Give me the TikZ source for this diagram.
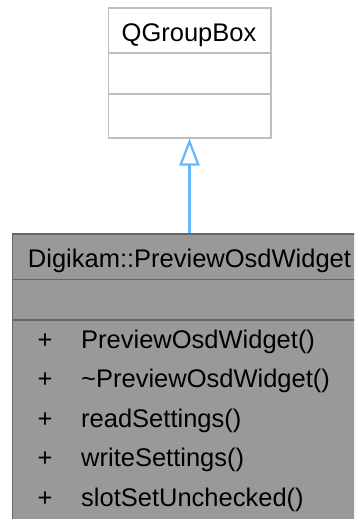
\documentclass[tikz,border=0pt]{standalone}
\usepackage{fontspec}
\setmainfont{Liberation Sans}
\usetikzlibrary{arrows.meta}
\definecolor{arrowblue}{HTML}{63B8FF}
\definecolor{topline}{HTML}{BFBFBF}
\definecolor{botfill}{HTML}{999999}
\definecolor{botline}{HTML}{666666}
\begin{document}
\begin{tikzpicture}[x=1pt,y=-1pt,
  txt/.style={font=\fontsize{25.5}{30}\selectfont, inner sep=0pt, text=black},
  classbox/.style={anchor=north west, inner sep=0pt, line width=1.5pt}]
\useasboundingbox (0,0) rectangle (354,519);
\clip (0,0) rectangle (354,519);
% base class
\node[classbox, draw=topline, fill=white, minimum width=162.5pt, minimum height=129.5pt] (base) at (107.5,7.5) {};
\draw[topline, line width=1.5pt] (107.5,53) -- (270,53);
\draw[topline, line width=1.5pt] (107.5,94) -- (270,94);
\node[txt, anchor=base] (basename) at (189,42) {QGroupBox};
% derived class
\node[classbox, draw=botline, fill=botfill, minimum width=354.5pt, minimum height=295pt] (derived) at (11.5,233) {};
\draw[botline, line width=1.5pt] (11.5,279.5) -- (366,279.5);
\draw[botline, line width=1.5pt] (11.5,320) -- (366,320);
\node[txt, anchor=base] (dername) at (189.5,267) {Digikam::PreviewOsdWidget};
\foreach \t [count=\i from 0] in {PreviewOsdWidget(),\char`~PreviewOsdWidget(),readSettings(),writeSettings(),slotSetUnchecked()} {
  \node[txt, anchor=base] (p\i) at (45,348+39.5*\i) {+};
  \node[txt, anchor=base west] (m\i) at (81,348+39.5*\i) {\t};
}
% inheritance arrow
\draw[arrowblue, line width=2.2pt, -{Triangle[open, length=27pt, width=20pt]}] (derived.north) -- (base.south);
\end{tikzpicture}
\end{document}
